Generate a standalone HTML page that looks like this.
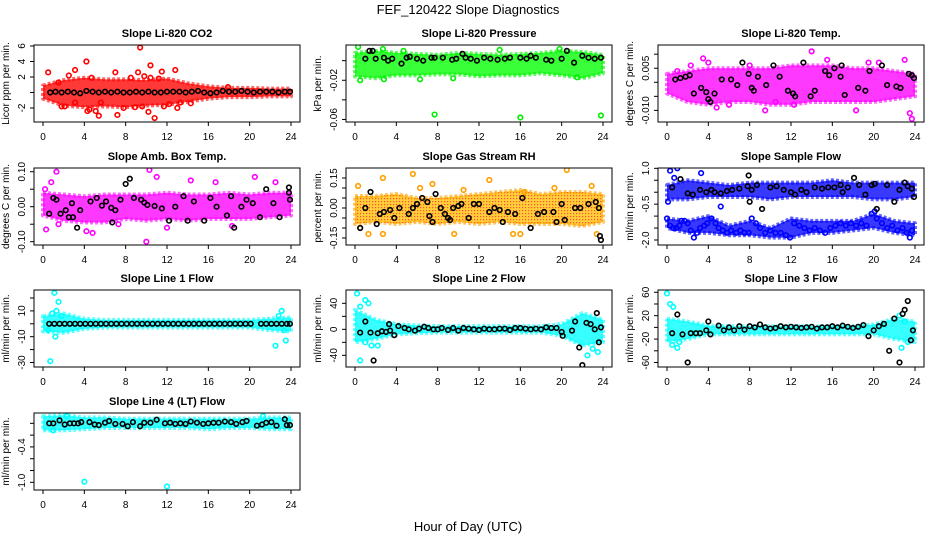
<!DOCTYPE html>
<html><head><meta charset="utf-8">
<style>
body{margin:0;background:#fff;}
svg{display:block;font-family:"Liberation Sans",sans-serif;}
</style></head>
<body>
<svg id="chart" width="936" height="540" viewBox="0 0 936 540" xmlns="http://www.w3.org/2000/svg">
<defs>
<pattern id="rhpat" width="3" height="3" patternUnits="userSpaceOnUse">
<rect width="3" height="3" fill="#ffc000"/><rect x="0" y="0" width="1.2" height="1.2" fill="#ff2000"/>
</pattern>
</defs>
<text x="468" y="14" font-size="13" text-anchor="middle">FEF_120422  Slope Diagnostics</text>
<text x="468" y="531" font-size="13" text-anchor="middle">Hour of Day (UTC)</text>
</svg>
<script>
const bandX=[0,2,4,6,8,10,12,14,16,18,20,22,24];
const xTicks=[0,4,8,12,16,20,24];

// CO2
const co2Hi=[0.9,1.6,1.9,1.7,1.7,1.6,1.8,1.2,0.8,0.6,0.6,0.5,0.5];
const co2Lo=[-0.8,-1.7,-1.9,-1.8,-1.9,-1.7,-1.6,-1.2,-0.8,-0.6,-0.6,-0.5,-0.5];
const co2OutX=[0.5,1.5,2.5,3.1,4.2,4.3,4.5,4.7,5.1,5.4,7,7.2,7.8,8.5,9.2,9.8,9.4,10.2,10.4,10.8,10.4,11.2,11.5,12.8,11.7,12.2,13,13.3,14.3,17.9,1.8,2.1,5.6,3.1,8.9,9.6];
const co2OutY=[2.6,1.3,2.2,2.9,4.0,-2.4,-2.2,1.9,-2.4,-3.0,2.6,-2.9,-2.0,1.9,2.6,2.1,5.8,-2.5,3.5,-3.3,1.9,1.8,2.7,2.9,-1.8,-1.5,-2.0,-1.3,-1.4,0.7,-1.8,-1.8,-1.3,-1.3,-1.9,-1.8];
const co2BlkX=[0.7,1.2,1.8,2.4,3.0,3.6,4.2,4.8,5.4,6.0,6.6,7.2,7.8,8.4,9.0,9.6,10.2,10.8,11.4,12.0,12.6,13.2,13.8,14.4,15.0,15.6,16.2,16.8,17.4,18.0,18.6,19.2,19.8,20.4,21.0,21.6,22.2,22.8,23.4,23.9];
const co2BlkY=[0.0,0.1,0.0,0.1,0.0,-0.1,0.2,0.1,0.0,0.1,0.0,0.1,0.0,0.0,0.1,0.0,0.1,0.0,0.0,0.1,0.1,0.1,0.0,0.1,0.2,0.0,-0.1,0.0,0.2,0.1,0.1,0.2,0.1,0.0,0.1,0.1,0.1,0.0,0.1,0.1];

// Pressure
const prHi=[0.008,0.010,0.008,0.007,0.006,0.008,0.007,0.006,0.007,0.008,0.010,0.009,0.006];
const prLo=[-0.016,-0.018,-0.015,-0.015,-0.014,-0.014,-0.016,-0.015,-0.015,-0.013,-0.015,-0.018,-0.013];
const prOutX=[0.3,2.7,4.7,7.7,14,16,19.8,23.8,0.5,2.8,6.3,9.5,21.5];
const prOutY=[0.014,0.012,0.010,-0.055,0.011,-0.058,0.012,-0.056,-0.020,-0.019,-0.019,-0.018,-0.017];
const prBlkX=[1.0,1.4,1.7,2.0,2.8,3.2,3.6,4.5,5.0,5.3,6.0,6.6,7.4,7.7,8.5,9.4,9.8,10.4,10.7,11.2,11.8,12.5,13.1,13.8,14.5,15.0,16.0,16.6,17.0,17.5,18.5,19.0,20.0,20.5,21.2,22.0,22.6,23.2,23.8];
const prBlkY=[0.002,0.010,0.010,0.002,0.003,0.0,0.002,-0.003,0.003,0.004,0.002,0.0,0.003,0.003,0.003,0.001,0.002,0.007,0.003,0.002,0.0,0.003,0.002,0.001,0.002,0.003,0.003,0.002,0.005,0.003,0.001,0.0,0.002,0.010,-0.002,0.005,0.003,0.002,0.003];

// Temp
const tpHi=[0.003,0.004,0.005,0.005,0.005,0.005,0.006,0.006,0.006,0.005,0.005,0.004,0.003];
const tpLo=[-0.004,-0.007,-0.008,-0.007,-0.007,-0.008,-0.008,-0.007,-0.007,-0.007,-0.007,-0.006,-0.005];
const tpOutX=[3.5,4,2.3,1,8,14,15.5,19.5,23,23.5,23.7,9.5,4.8,18.3,12.3,10.5,6,20.5];
const tpOutY=[0.0085,0.007,0.006,0.004,0.006,0.011,0.008,0.007,0.008,-0.011,-0.013,-0.010,-0.009,-0.010,-0.008,-0.007,-0.008,0.007];
const tpBlkX=[0.8,1.3,1.8,2.2,2.6,3.3,3.8,4.0,4.2,4.6,5.3,6.2,6.8,7.3,7.9,8.2,8.4,8.8,9.6,10.3,10.9,11.7,12.2,12.4,13.2,13.9,14.3,15.3,15.7,16.2,16.8,16.9,17.2,18.5,19.2,19.6,20.8,21.3,22.2,22.6,23.4,23.7,23.9];
const tpBlkY=[0.001,0.0015,0.002,0.0025,-0.004,-0.002,-0.0035,-0.006,-0.007,-0.004,0.001,0.001,-0.001,0.007,0.003,-0.002,-0.003,0.002,-0.001,0.006,0.002,-0.003,-0.004,-0.005,0.007,-0.005,-0.003,0.004,0.0025,0.005,0.002,0.006,-0.0045,-0.002,-0.003,0.004,0.006,-0.001,-0.0015,-0.002,0.003,0.0025,0.0015];

// Amb box temp
const amHi=[0.04,0.035,0.03,0.035,0.035,0.035,0.04,0.035,0.035,0.04,0.035,0.04,0.04];
const amLo=[-0.025,-0.04,-0.045,-0.045,-0.035,-0.04,-0.035,-0.04,-0.035,-0.035,-0.035,-0.03,-0.025];
const amOutX=[1.3,0.8,0.2,0.3,4.2,4.8,10,10.3,11,14.3,16.7,18.3,20.5,22.5,1.5,7.3,12];
const amOutY=[0.10,0.07,0.05,-0.065,-0.07,-0.075,-0.10,0.105,0.085,0.075,0.07,-0.055,0.085,0.07,-0.05,-0.05,-0.06];
const amBlkX=[0.6,1.0,1.3,1.7,2.2,2.5,2.8,2.9,3.3,3.6,4.6,5.2,5.7,6.1,6.6,6.7,7.0,7.5,8.0,8.4,8.8,9.5,9.8,10.1,10.8,11.5,12.2,12.8,13.6,14.0,14.6,15.6,16.2,16.8,17.8,18.2,18.5,19.2,19.7,20.3,21.0,21.6,22.3,22.9,23.8,23.8,23.9];
const amBlkY=[-0.02,0.025,0.02,-0.02,-0.01,-0.03,0.01,-0.03,-0.06,-0.01,0.015,0.025,0.003,0.015,-0.003,-0.045,-0.01,0.02,0.065,0.08,0.025,0.02,0.012,0.005,0.002,-0.005,-0.04,0.0,0.03,-0.04,0.015,-0.04,0.025,0.0,-0.025,0.03,-0.06,0.0,0.02,0.01,-0.03,0.05,0.01,-0.03,0.055,0.04,0.02];

// RH
const rhHi=[0.06,0.06,0.07,0.05,0.05,0.06,0.07,0.08,0.09,0.07,0.08,0.08,0.07];
const rhLo=[-0.08,-0.07,-0.08,-0.07,-0.08,-0.07,-0.08,-0.07,-0.08,-0.08,-0.08,-0.09,-0.07];
const rhOutX=[0.3,0.5,1.3,2.7,2.7,5.6,6.3,7.5,9.4,9.6,10.5,13,15.3,16,16.4,19.3,20.5,22.9,23.4];
const rhOutY=[0.11,-0.1,-0.13,0.15,-0.13,0.17,0.1,0.12,-0.2,-0.13,0.09,0.14,-0.13,-0.13,0.08,0.1,0.19,0.11,-0.13];
const rhBlkX=[0.5,1.0,1.5,2.1,2.4,2.8,3.4,3.8,4.3,5.2,5.6,6.0,6.5,7.0,7.2,7.5,7.8,8.3,8.7,9.0,9.2,9.5,10.0,10.3,11.0,11.5,12.0,13.0,13.5,14.0,14.3,14.8,15.5,16.2,17.0,17.7,18.3,19.2,19.5,20.0,20.3,21.3,21.8,22.6,23.3,23.6,23.7,23.8];
const rhBlkY=[-0.1,0.0,0.08,-0.08,-0.03,-0.02,-0.01,-0.05,0.0,-0.03,0.0,0.02,0.05,0.03,-0.04,-0.07,0.07,0.0,-0.03,-0.05,-0.06,0.0,0.01,0.02,-0.05,0.02,0.02,-0.02,0.0,-0.01,-0.07,-0.02,-0.03,0.05,-0.1,-0.03,-0.02,-0.02,-0.07,0.02,-0.06,0.0,0.0,0.02,0.03,0.0,-0.14,-0.16];

// Sample flow
const sfHi=[0.3,0.5,0.4,0.3,0.4,0.4,0.4,0.4,0.5,0.4,0.4,0.4,0.4];
const sfLo=[-0.3,-0.3,-0.2,-0.2,-0.2,-0.3,-0.2,-0.2,-0.2,-0.2,-0.3,-0.3,-0.2];
const sfLowHi=[-1.1,-1.2,-1.0,-1.4,-1.2,-1.5,-1.1,-1.2,-1.2,-1.2,-0.9,-1.2,-1.3];
const sfLowLo=[-1.5,-1.7,-1.7,-1.8,-1.8,-1.9,-1.9,-1.7,-1.7,-1.6,-1.5,-1.7,-1.8];
const sfOutX=[0,0.3,0.6,0.9,1.2,1.4,1.7,2,2.3,2.6,2.9,3.2,3.6,3.9,4.3,4.7,5,5.4,5.8,6.2,6.7,7.1,7.5,7.9,8.2,8.6,9,9.5,10,10.5,11,11.5,11.9,12.3,12.8,13.3,13.8,14.3,14.8,15.3,15.8,16.3,16.8,17.3,17.8,18.3,18.8,19.3,19.8,20.3,20.8,21.3,21.8,22.3,22.8,23.2,23.5,23.7,0.3,0.7,1.0,3.3,0.1,20.1,5.2];
const sfOutY=[-1.1,-1.4,-1.5,-1.5,-1.4,-1.2,-1.2,-1.3,-1.6,-1.9,-1.7,-1.5,-1.4,-1.3,-1.1,-1.3,-1.5,-1.6,-1.7,-1.6,-1.7,-1.6,-1.7,-1.7,-1.1,-1.3,-1.5,-1.7,-1.6,-1.7,-1.7,-1.8,-1.9,-1.3,-1.4,-1.5,-1.6,-1.5,-1.6,-1.7,-1.5,-1.4,-1.3,-1.4,-1.3,-1.4,-1.3,-1.4,-0.9,-1.1,-1.3,-1.5,-1.4,-1.6,-1.5,-1.7,-1.9,-1.6,0.9,0.6,1.0,0.8,-0.4,-0.8,-0.6];
const sfBlkX=[0.5,1.3,2.0,2.5,3.2,3.8,4.3,4.6,5.2,5.8,6.3,7.0,7.8,7.9,8.0,8.2,8.7,9.2,10.0,10.6,11.3,12.0,12.4,13.0,13.5,14.3,15.0,15.6,16.2,16.8,17.0,17.5,18.1,18.6,19.2,19.8,20.1,20.3,21.3,22.0,22.5,23.0,23.3,23.7,23.9];
const sfBlkY=[0.2,0.55,-0.05,-0.1,0.1,0.0,0.1,0.0,-0.05,0.05,0.1,0.15,0.25,0.7,-0.4,0.1,0.3,-0.7,0.2,0.25,0.1,0.0,-0.1,0.1,0.0,0.2,0.15,0.2,0.2,0.3,0.0,0.2,0.6,0.3,-0.1,0.3,0.35,-0.7,0.3,-0.4,0.1,0.4,0.25,0.15,-0.2];

// Line 1
const l1Hi=[6,8,4,3,3,3,3,3,3,3,3,4,5];
const l1Lo=[-6,-7,-4,-3,-3,-3,-3,-3,-3,-3,-3,-5,-6];
const l1OutX=[0.7,1.1,1.5,0.9,1.3,22.5,23.1,23.5,23.3,0.5,1.2,1.8,22.8];
const l1OutY=[-29,24,17,8,10,-17,10,-13,-5,-5,-10,6,6];
const l1BlkX=[0.6,1.1,1.6,2.1,2.6,3.1,3.6,4.1,4.6,5.1,5.6,6.1,6.6,7.1,7.6,8.1,8.6,9.1,9.6,10.1,10.6,11.1,11.6,12.1,12.6,13.1,13.6,14.1,14.6,15.1,15.6,16.1,16.6,17.1,17.6,18.1,18.6,19.1,19.6,20.1,21.1,21.6,22.1,22.6,23.1,23.6,23.9];
const l1BlkY=[0,0,0,0,0,0,0,0,0,0,0,0,0,0,0,0,0,0,0,0,0,0,0,0,0,0,0,0,0,0,0,0,0,0,0,0,0,0,0,0,0,0,0,0,0,0,0];

// Line 2
const l2Hi=[30,15,8,6,5,5,5,5,5,5,8,25,15];
const l2Lo=[-20,-15,-8,-6,-5,-5,-5,-5,-5,-5,-10,-25,-20];
const l2OutX=[0.2,0.5,1.0,1.3,0.5,1.6,2.2,1.0,22.5,23.0,23.5];
const l2OutY=[55,35,45,40,-48,-25,-25,-20,-40,-30,-35];
const l2BlkX=[0.5,1.0,1.5,1.8,2.2,2.6,3.0,3.3,3.4,3.8,4.2,4.8,5.2,5.8,6.2,6.7,7.1,7.6,8.0,8.4,9.0,9.5,10.0,10.5,11.0,11.5,12.0,12.5,13.0,13.5,14.0,14.5,15.0,15.5,16.0,16.5,17.0,17.5,18.0,18.5,19.0,19.5,20.0,20.1,21.0,21.3,21.7,22.0,22.4,22.8,23.2,23.4,23.6,23.8];
const l2BlkY=[-5,12,-5,-48,-6,-3,-4,8,-2,-9,5,2,0,-2,1,4,2,0,0,2,-1,2,-2,2,1,0,-1,1,0,0,1,1,-1,2,2,1,0,1,0,3,2,2,-4,-10,-2,12,-28,-55,10,8,0,25,-20,3];

// Line 3
const l3Hi=[15,10,3,2,2,2,2,2,2,2,5,15,10];
const l3Lo=[-25,-20,-12,-12,-12,-12,-12,-12,-12,-12,-12,-20,-25];
const l3OutX=[0,0.3,0.6,0.5,1.0,1.2,22.5,23.0,22.7,23.3];
const l3OutY=[58,40,35,-30,-35,-25,20,10,-35,-25];
const l3BlkX=[0.5,1.0,1.5,2.0,2.3,2.8,3.2,3.8,4.0,4.2,5.0,5.5,6.0,6.5,7.0,7.5,8.0,8.5,9.0,9.5,10.0,10.5,11.0,11.5,12.0,12.5,13.0,13.5,14.0,14.5,15.0,15.5,16.0,16.5,17.0,17.5,18.0,18.5,19.0,19.5,20.0,20.5,21.0,21.5,22.0,22.5,22.8,23.0,23.3,23.6,23.8];
const l3BlkY=[-10,22,-12,-60,-10,-10,-10,-5,10,-12,3,-5,0,-5,2,-4,2,0,5,0,-2,-1,2,0,1,0,-1,0,1,-2,0,0,2,0,3,1,-1,1,4,-15,-5,2,6,-40,15,-60,23,30,45,-22,-5];

// Line 4
const l4Hi=[0.12,0.14,0.1,0.1,0.08,0.08,0.08,0.08,0.08,0.08,0.08,0.1,0.1];
const l4Lo=[-0.12,-0.12,-0.1,-0.08,-0.08,-0.08,-0.08,-0.08,-0.1,-0.08,-0.08,-0.1,-0.1];
const l4OutX=[4,12,1,2.3,21.3];
const l4OutY=[-0.99,-1.07,-0.12,0.12,0.12];
const l4BlkX=[0.6,1.0,1.6,2.1,2.6,3.0,3.4,3.7,4.5,5.0,5.4,6.0,6.4,7.0,7.7,8.2,8.7,9.4,9.8,10.4,11.0,11.8,12.3,12.8,13.3,13.8,14.3,14.9,15.5,16.0,16.5,17.0,17.6,18.2,18.7,19.3,19.7,20.7,21.2,21.6,22.1,22.6,23.4,23.6,23.9];
const l4BlkY=[0,0,0.05,-0.02,0,0,0,0.02,0.02,-0.02,-0.03,0.01,0.04,-0.01,-0.01,-0.05,0.02,-0.05,0.01,0.01,0.06,0,0.01,-0.01,0,-0.01,0.03,0.01,-0.01,0,0.01,0.01,0.03,0.02,-0.01,0.02,0.04,-0.04,-0.02,0.01,0.02,-0.04,0.07,-0.03,-0.03];

const NS="http://www.w3.org/2000/svg";
const svg=document.getElementById('chart');
function mk(tag,attrs,parent){const e=document.createElementNS(NS,tag);for(const k in attrs)e.setAttribute(k,attrs[k]);(parent||svg).appendChild(e);return e;}

const panels=[
 {key:'co2',title:'Slope Li-820 CO2',ylab:'Licor ppm per min.',col:0,row:0,vmin:-3.81,vmax:6.13,ticks:[-2,0,2,4,6],labels:['-2','','2','4','6'],color:'#ff0000',fill:'#ff0000',hi:co2Hi,lo:co2Lo,ox:co2OutX,oy:co2OutY,bx:co2BlkX,by:co2BlkY},
 {key:'pressure',title:'Slope Li-820 Pressure',ylab:'kPa per min.',col:1,row:0,vmin:-0.0626,vmax:0.016,ticks:[0,-0.02,-0.04,-0.06],labels:['','-0.02','','-0.06'],color:'#00ee00',fill:'#00ff00',hi:prHi,lo:prLo,ox:prOutX,oy:prOutY,bx:prBlkX,by:prBlkY},
 {key:'li820-temp',title:'Slope Li-820 Temp.',ylab:'degrees C per min.',col:2,row:0,vmin:-0.01413,vmax:0.01327,ticks:[0.01,0.005,0,-0.005,-0.01],labels:['','0.005','','','-0.010'],color:'#ff00ff',fill:'#ff00ff',hi:tpHi,lo:tpLo,ox:tpOutX,oy:tpOutY,bx:tpBlkX,by:tpBlkY},
 {key:'amb-temp',title:'Slope Amb. Box Temp.',ylab:'degrees C per min.',col:0,row:1,vmin:-0.1094,vmax:0.1106,ticks:[0.1,0.05,0,-0.05,-0.1],labels:['0.10','','0.00','','-0.10'],color:'#ff00ff',fill:'#ff00ff',hi:amHi,lo:amLo,ox:amOutX,oy:amOutY,bx:amBlkX,by:amBlkY},
 {key:'rh',title:'Slope Gas Stream RH',ylab:'percent per min.',col:1,row:1,vmin:-0.185,vmax:0.2,ticks:[0.15,0.1,0.05,0,-0.05,-0.1,-0.15],labels:['0.15','','','0.00','','','-0.15'],color:'#ffa000',fill:'url(#rhpat)',hi:rhHi,lo:rhLo,ox:rhOutX,oy:rhOutY,bx:rhBlkX,by:rhBlkY},
 {key:'sample-flow',title:'Slope Sample Flow',ylab:'ml/min per min.',col:2,row:1,vmin:-2.209,vmax:1.013,ticks:[1,0.5,0,-0.5,-1,-1.5,-2],labels:['1.0','','','-0.5','','','-2.0'],color:'#0000ff',fill:'#0000ff',hi:sfHi,lo:sfLo,hi2:sfLowHi,lo2:sfLowLo,ox:sfOutX,oy:sfOutY,bx:sfBlkX,by:sfBlkY},
 {key:'line1',title:'Slope Line 1 Flow',ylab:'ml/min per min.',col:0,row:2,vmin:-33.5,vmax:26.2,ticks:[20,10,0,-10,-20,-30],labels:['','10','','-10','','-30'],color:'#00ffff',fill:'#00ffff',hi:l1Hi,lo:l1Lo,ox:l1OutX,oy:l1OutY,bx:l1BlkX,by:l1BlkY},
 {key:'line2',title:'Slope Line 2 Flow',ylab:'ml/min per min.',col:1,row:2,vmin:-57.95,vmax:60.5,ticks:[40,20,0,-20,-40],labels:['40','','0','','-40'],color:'#00ffff',fill:'#00ffff',hi:l2Hi,lo:l2Lo,ox:l2OutX,oy:l2OutY,bx:l2BlkX,by:l2BlkY},
 {key:'line3',title:'Slope Line 3 Flow',ylab:'ml/min per min.',col:2,row:2,vmin:-67.7,vmax:63.9,ticks:[60,40,20,0,-20,-40,-60],labels:['60','','20','','-20','','-60'],color:'#00ffff',fill:'#00ffff',hi:l3Hi,lo:l3Lo,ox:l3OutX,oy:l3OutY,bx:l3BlkX,by:l3BlkY},
 {key:'line4',title:'Slope Line 4 (LT) Flow',ylab:'ml/min per min.',col:0,row:3,vmin:-1.13,vmax:0.175,ticks:[0,-0.2,-0.4,-0.6,-0.8,-1.0],labels:['','','-0.4','','','-1.0'],color:'#00ffff',fill:'#00ffff',hi:l4Hi,lo:l4Lo,ox:l4OutX,oy:l4OutY,bx:l4BlkX,by:l4BlkY}
];
const rowTops=[45,168,290,413];
const H=77;

panels.forEach(p=>{
 const L=34+p.col*312, R=L+266, T=rowTops[p.row], B=T+H;
 const x0=L+9, xs=(R-9-x0)/24;
 const xf=h=>x0+h*xs;
 const yf=v=>B-(v-p.vmin)/(p.vmax-p.vmin)*H;
 const g=mk('g',{});
 
 
 const t=mk('text',{x:(L+R)/2,y:T-8,'font-size':11,'font-weight':'bold','text-anchor':'middle'},g);
 t.textContent=p.title;
 
 
 const cp=mk('clipPath',{id:'clip-'+p.key},g);
 mk('rect',{x:L,y:T,width:R-L,height:H},cp);
 const plot=mk('g',{'clip-path':'url(#clip-'+p.key+')'},g);
 
 
 const drawBand=(hi,lo)=>{
  let pts=[];
  for(let i=0;i<bandX.length;i++)pts.push(xf(bandX[i])+','+yf(hi[i]));
  for(let i=bandX.length-1;i>=0;i--)pts.push(xf(bandX[i])+','+yf(lo[i]));
  const band=mk('polygon',{points:pts.join(' '),fill:p.fill,stroke:p.color,'stroke-width':4,'stroke-opacity':0.6,'stroke-linejoin':'round','stroke-dasharray':'3 2','fill-opacity':0.78},plot);
  
  
 };
 drawBand(p.hi,p.lo);
 if(p.hi2)drawBand(p.hi2,p.lo2);
 for(let i=0;i<p.ox.length;i++){
  const c=mk('circle',{cx:xf(p.ox[i]),cy:yf(p.oy[i]),r:2.3,fill:'none',stroke:p.color,'stroke-width':1.6},plot);
  
  
 }
 for(let i=0;i<p.bx.length;i++){
  const c=mk('circle',{cx:xf(p.bx[i]),cy:yf(p.by[i]),r:2.3,fill:'none',stroke:'#000','stroke-width':1.6},plot);
  
  
 }
 const box=mk('rect',{x:L,y:T,width:R-L,height:H,fill:'none',stroke:'#000','stroke-width':1},g);
 
 
 xTicks.forEach(h=>{
  mk('line',{x1:xf(h),x2:xf(h),y1:B,y2:B+4,stroke:'#000'},g);
  const tl=mk('text',{x:xf(h),y:B+18,'font-size':10,'text-anchor':'middle'},g);
  tl.textContent=h;
  
  
 });
 p.ticks.forEach((v,i)=>{
  const yy=yf(v);
  mk('line',{x1:L-4,x2:L,y1:yy,y2:yy,stroke:'#000'},g);
  if(p.labels[i]){
   const tl=mk('text',{x:L-9,y:yy,'font-size':10,'text-anchor':'middle',transform:'rotate(-90 '+(L-9)+' '+yy+')'},g);
   tl.textContent=p.labels[i];
   
   
  }
 });
 const yl=mk('text',{x:L-25,y:(T+B)/2,'font-size':10,'text-anchor':'middle',transform:'rotate(-90 '+(L-25)+' '+((T+B)/2)+')'},g);
 yl.textContent=p.ylab;
 
 
});
</script>
</body></html>
